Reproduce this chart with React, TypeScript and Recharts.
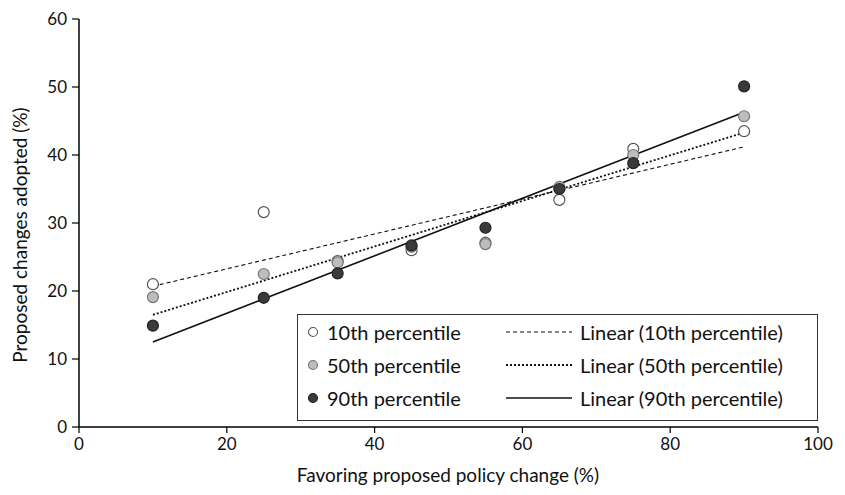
import React from "react"
import {
  Legend,
  Scatter,
  ScatterChart,
  XAxis,
  YAxis,
} from "recharts"

// observations
const favoring = [10, 25, 35, 45, 55, 65, 75, 90]
const pct10 = [21.0, 31.6, 24.4, 26.0, 27.1, 33.4, 40.9, 43.5]
const pct50 = [19.1, 22.5, 24.2, 26.5, 26.9, 35.3, 40.0, 45.7]
const pct90 = [14.9, 19.0, 22.6, 26.7, 29.3, 35.0, 38.8, 50.1]

// trend line ends
const trendX = [10, 90]
const trend10 = [20.7, 41.2]
const trend50 = [16.5, 43.3]
const trend90 = [12.5, 46.3]

const xTicks = [0, 20, 40, 60, 80, 100]
const yTicks = [0, 10, 20, 30, 40, 50, 60]

const FONT = "Lato, 'Open Sans', sans-serif"

const toPoints = (xs: number[], ys: number[]) => xs.map((x, i) => ({ x, y: ys[i] }))

const series = [
  { name: "10th percentile", values: pct10, fill: "#ffffff", stroke: "#555555" },
  { name: "50th percentile", values: pct50, fill: "#bdbdbd", stroke: "#777777" },
  { name: "90th percentile", values: pct90, fill: "#3a3a3a", stroke: "#222222" },
]

const trends = [
  { name: "Linear (10th percentile)", values: trend10, dash: "4 3", width: 1.1 },
  { name: "Linear (50th percentile)", values: trend50, dash: "2 2", width: 1.8 },
  { name: "Linear (90th percentile)", values: trend90, dash: undefined, width: 1.6 },
]

function Dot(fill: string, stroke: string) {
  return (props: any) => (
    <circle cx={props.cx} cy={props.cy} r={5.5} fill={fill} stroke={stroke} strokeWidth={1.2} />
  )
}

function LegendBox() {
  return (
    <div
      style={{
        width: 519,
        height: 105,
        border: "1px solid #333",
        background: "#fff",
        fontFamily: FONT,
        fontSize: 20,
        color: "#111",
        position: "relative",
      }}
    >
      {series.map((s, i) => (
        <div key={s.name} style={{ position: "absolute", left: 8, top: 5 + i * 33, display: "flex", alignItems: "center" }}>
          <svg width={14} height={14}>
            <circle cx={7} cy={7} r={4.5} fill={s.fill} stroke={s.stroke} strokeWidth={1.1} />
          </svg>
          <span style={{ marginLeft: 7 }}>{s.name}</span>
        </div>
      ))}
      {trends.map((t, i) => (
        <div key={t.name} style={{ position: "absolute", left: 208, top: 5 + i * 33, display: "flex", alignItems: "center" }}>
          <svg width={66} height={14}>
            <line x1={0} y1={7} x2={66} y2={7} stroke="#111" strokeWidth={t.width} strokeDasharray={t.dash} />
          </svg>
          <span style={{ marginLeft: 8 }}>{t.name}</span>
        </div>
      ))}
    </div>
  )
}

export default function App() {
  return (
    <div style={{ position: "absolute", left: 0, top: 0, background: "#fff" }}>
      <ScatterChart width={845} height={495} margin={{ top: 19, right: 27, bottom: 0, left: 0 }}>
        <XAxis
          type="number"
          dataKey="x"
          domain={[0, 100]}
          ticks={xTicks}
          tickSize={6}
          tickMargin={5}
          axisLine={{ stroke: "#000", strokeWidth: 1.5 }}
          tickLine={{ stroke: "#000", strokeWidth: 1.2 }}
          tick={{ fill: "#111", fontSize: 17, fontFamily: FONT }}
          height={68}
          label={{
            content: () => (
              <text x={448} y={482} textAnchor="middle" fontSize={19} fontFamily={FONT} fill="#111">
                Favoring proposed policy change (%)
              </text>
            ),
          }}
        />
        <YAxis
          type="number"
          dataKey="y"
          domain={[0, 60]}
          ticks={yTicks}
          tickSize={7}
          tickMargin={5}
          axisLine={{ stroke: "#000", strokeWidth: 1.5 }}
          tickLine={{ stroke: "#000", strokeWidth: 1.2 }}
          tick={{ fill: "#111", fontSize: 17, fontFamily: FONT }}
          width={79}
          label={{
            content: () => (
              <text
                x={0}
                y={0}
                transform="translate(27,235) rotate(-90)"
                textAnchor="middle"
                fontSize={19}
                fontFamily={FONT}
                fill="#111"
              >
                Proposed changes adopted (%)
              </text>
            ),
          }}
        />
        {trends.map((t) => (
          <Scatter
            key={t.name}
            name={t.name}
            data={toPoints(trendX, t.values)}
            line={{ stroke: "#111", strokeWidth: t.width, strokeDasharray: t.dash }}
            shape={() => <g />}
            isAnimationActive={false}
          />
        ))}
        {series.map((s) => (
          <Scatter
            key={s.name}
            name={s.name}
            data={toPoints(favoring, s.values)}
            shape={Dot(s.fill, s.stroke)}
            isAnimationActive={false}
          />
        ))}
        <Legend
          layout="horizontal"
          verticalAlign="middle"
          content={() => <LegendBox />}
          wrapperStyle={{ left: 297, top: 314, width: 521, height: 107 }}
        />
      </ScatterChart>
    </div>
  )
}
